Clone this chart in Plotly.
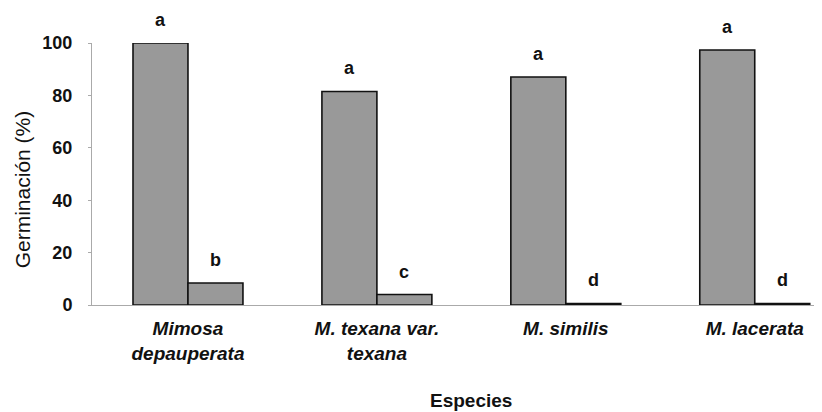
import plotly.graph_objects as go

especies = ["Mimosa<br>depauperata", "M. texana var.<br>texana", "M. similis", "M. lacerata"]
serie_1 = [100, 81.5, 87, 97.3]
serie_2 = [8.4, 4, 0.6, 0.6]
letras_1 = ["a", "a", "a", "a"]
letras_2 = ["b", "c", "d", "d"]
y_ticks = [0, 20, 40, 60, 80, 100]

FONT = "Liberation Sans, Arial, sans-serif"
GRAY = "#999999"

idx = list(range(len(especies)))

fig = go.Figure()
fig.add_trace(go.Bar(x=idx, y=serie_1, marker=dict(color=GRAY, line=dict(color="#111111", width=1.6)),
                     showlegend=False, cliponaxis=False))
fig.add_trace(go.Bar(x=idx, y=serie_2, marker=dict(color=GRAY, line=dict(color="#111111", width=1.6)),
                     showlegend=False, cliponaxis=False))

for i in idx:
    fig.add_annotation(x=i, y=serie_1[i], text="<b>" + letras_1[i] + "</b>", xref="x", yref="y", showarrow=False,
                       xshift=-27.5, yshift=23, font=dict(family=FONT, size=18, color="#111111"))
    fig.add_annotation(x=i, y=serie_2[i], text="<b>" + letras_2[i] + "</b>", xref="x", yref="y", showarrow=False,
                       xshift=27.5, yshift=23, font=dict(family=FONT, size=18, color="#111111"))

fig.add_annotation(x=0.519, y=-0.363, xref="paper", yref="paper", yanchor="middle", showarrow=False,
                   text="<b>Especies</b>", font=dict(family=FONT, size=19, color="#111111"))
fig.add_annotation(x=-0.094, y=0.443, xref="paper", yref="paper", xanchor="center", yanchor="middle",
                   showarrow=False, textangle=-90,
                   text="Germinación (%)", font=dict(family=FONT, size=21, color="#111111"))

fig.update_layout(
    width=814, height=404,
    margin=dict(l=84, r=0, t=35, b=107),
    paper_bgcolor="white", plot_bgcolor="white",
    barmode="group", bargap=0.418, bargroupgap=0,
    font=dict(family=FONT, color="#111111"),
    xaxis=dict(
        range=[-0.508, 3.356],
        tickvals=idx,
        ticktext=["<b><i>" + t.replace("<br>", "</i></b><br><b><i>") + "</i></b>" for t in especies],
        tickfont=dict(family=FONT, size=19, color="#111111"),
        showline=True, linecolor="#aaaaaa", linewidth=1,
        ticks="", showgrid=False, zeroline=False,
        ticklabelstandoff=6,
    ),
    yaxis=dict(
        range=[0, 100],
        tickvals=y_ticks,
        ticktext=["<b>%d</b>" % v for v in y_ticks],
        tickfont=dict(family=FONT, size=18, color="#111111"),
        showline=True, linecolor="#aaaaaa", linewidth=1,
        ticks="outside", ticklen=3, tickcolor="#aaaaaa",
        showgrid=False, zeroline=False,
        ticklabelstandoff=12,
    ),
)

fig.write_html("out.html")
